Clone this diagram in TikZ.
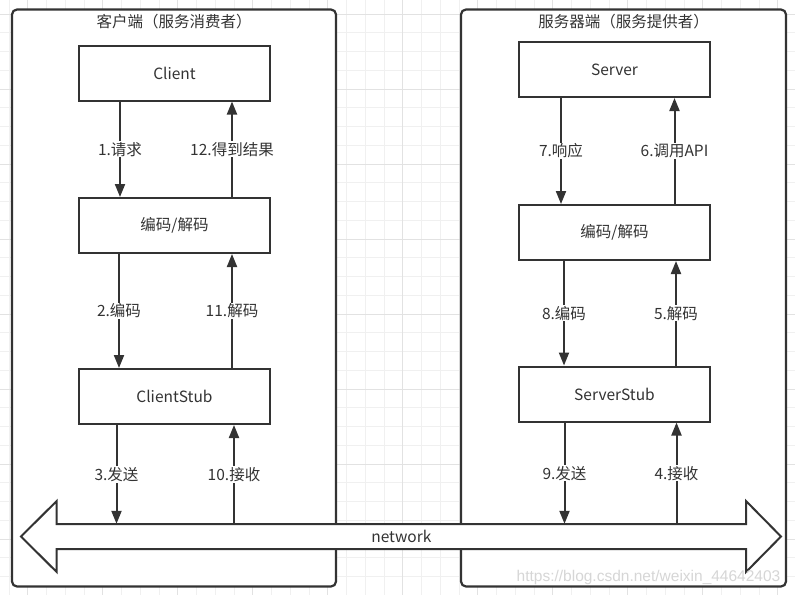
\documentclass[tikz,border=0pt]{standalone}
\usepackage{fontspec}
\setmainfont{Noto Sans CJK SC}
\newfontfamily\filigrane{Liberation Sans}
\usetikzlibrary{arrows.meta}
\definecolor{gris}{HTML}{333333}
\definecolor{grille}{HTML}{F0F0F0}
\definecolor{grillefort}{HTML}{E2E2E2}
\definecolor{pale}{HTML}{D6D6D6}

\begin{document}
\begin{tikzpicture}[x=1pt,y=-1pt]
	\tikzstyle{fleche}=[-{Triangle[length=13pt,width=10pt]},line width=2pt,draw=gris]
	\tikzstyle{trait}=[line width=2pt,draw=gris]
	\tikzstyle{boite}=[draw=gris,line width=2pt,fill=white,minimum width=191,minimum height=55,text=gris]
	\tikzstyle{cadre}=[draw=gris,line width=2.2pt,fill=white,rounded corners=5pt,minimum width=324,minimum height=577]
	\tikzstyle{titre}=[text=gris,anchor=center]
	\tikzstyle{etiquette}=[pos=0.5,fill=white,text=gris,inner sep=1pt]
	\tikzset{every node/.style={font=\fontsize{15.5}{18}\selectfont}}
	
	\def\ColonneG{174.5}
	\def\ColonneD{614.5}
	
	\useasboundingbox (0,0) rectangle (795,595);
	
	% grille de fond
	\foreach \i in {0,...,41} \draw[grille,line width=0.8pt] ({8.95+18.75*\i},0) -- ++(0,595);
	\foreach \j in {0,...,30} \draw[grille,line width=0.8pt] (0,{14+18.75*\j}) -- ++(795,0);
	\foreach \i in {0,...,10} \draw[grillefort,line width=0.8pt] ({27.7+75*\i},0) -- ++(0,595);
	\foreach \j in {0,...,7} \draw[grillefort,line width=0.8pt] (0,{14+75*\j}) -- ++(795,0);
	
	% les deux cadres
	\node[cadre] (G) at (174,298) {};
	\node[cadre,minimum width=325] (D) at (623.5,298) {};
	\node[titre] (Gt) at ([yshift=-13.5]G.north) {客户端（服务消费者）};
	\node[titre] (Dt) at ([yshift=-13.5]D.north) {服务器端（服务提供者）};
	
	\node[boite] (C) at (\ColonneG,73) {Client};
	\node[boite] (Cc) at (\ColonneG,225.5) {编码/解码};
	\node[boite] (Cs) at (\ColonneG,396.5) {ClientStub};
	\node[boite] (S) at (\ColonneD,69.5) {Server};
	\node[boite] (Sc) at (\ColonneD,232.5) {编码/解码};
	\node[boite] (Ss) at (\ColonneD,394) {ServerStub};
	
	\draw[fleche] ([xshift=-54.5]C.south)--([xshift=-54.5]Cc.north) node[etiquette] {1.请求};
	\draw[fleche] ([xshift=-55.5]Cc.south)--([xshift=-55.5]Cs.north) node[etiquette] {2.编码};
	\draw[fleche] ([xshift=57.5]Cs.north)--([xshift=57.5]Cc.south) node[etiquette] {11.解码};
	\draw[fleche] ([xshift=57.5]Cc.north)--([xshift=57.5]C.south) node[etiquette] {12.得到结果};
	\draw[fleche] ([xshift=-53.5]S.south)--([xshift=-53.5]Sc.north) node[etiquette] {7.响应};
	\draw[fleche] ([xshift=-50.5]Sc.south)--([xshift=-50.5]Ss.north) node[etiquette] {8.编码};
	\draw[fleche] ([xshift=61.5]Ss.north)--([xshift=61.5]Sc.south) node[etiquette] {5.解码};
	\draw[fleche] ([xshift=60]Sc.north)--([xshift=60]S.south) node[etiquette] {6.调用API};
	
	% la fleche network
	\draw[trait,fill=white,line join=miter] (56.7,524) -- (746,524) -- (746,501) -- (781,536.5)
		-- (746,572) -- (746,549) -- (56.7,549) -- (56.7,572) -- (21,536.5) -- (56.7,501) -- cycle;
	\node[minimum width=689.3,minimum height=25,inner sep=0pt,text=gris] (N) at (401.35,536.5) {network};
	
	\draw[fleche] ([xshift=-58]Cs.south)--([xshift=-58]Cs.south |- N.north) node[etiquette] {3.发送};
	\draw[fleche] ([xshift=59.5]Cs.south |- N.north)--([xshift=59.5]Cs.south) node[etiquette] {10.接收};
	\draw[fleche] ([xshift=-50]Ss.south)--([xshift=-50]Ss.south |- N.north) node[etiquette] {9.发送};
	\draw[fleche] ([xshift=62]Ss.south |- N.north)--([xshift=62]Ss.south) node[etiquette] {4.接收};
	
	\node[text=pale,font=\filigrane\fontsize{15.5}{18}\selectfont] (W) at (648.5,577) {https://blog.csdn.net/weixin\_44642403};
\end{tikzpicture}
\end{document}
